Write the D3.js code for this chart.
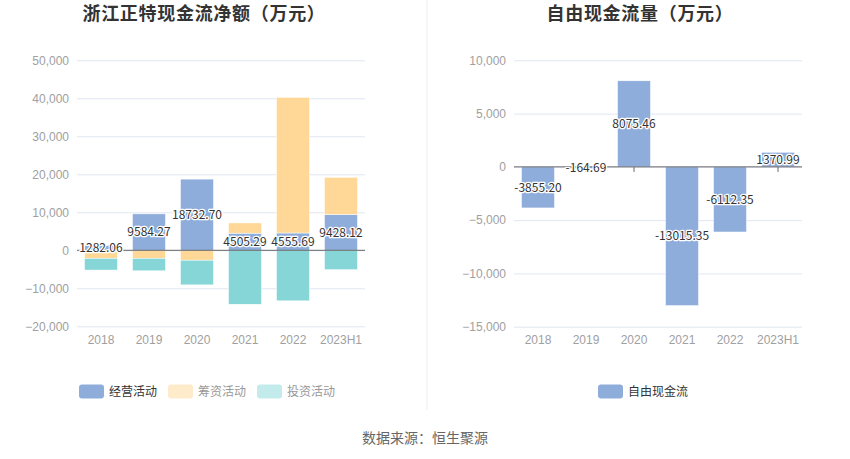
<!DOCTYPE html>
<html><head><meta charset="utf-8">
<script src="https://cdn.jsdelivr.net/npm/d3@7"></script>
<style>
html,body{margin:0;padding:0;background:#fff;}
svg{display:block;font-family:"Noto Sans CJK SC","Noto Sans",sans-serif;}
</style></head>
<body>
<svg id="c" width="850" height="459"></svg>
<script>
const categories = ["2018","2019","2020","2021","2022","2023H1"];
const operating = [1282.06, 9584.27, 18732.70, 4505.29, 4555.69, 9428.12];
const financing = [-2100, -2100, -2600, 2700, 35700, 9780];
const investing = [-3100, -3300, -6500, -14200, -13300, -5100];
const freeCash = [-3855.20, -164.69, 8075.46, -13015.35, -6112.35, 1370.99];
const leftTicks = [-20000,-10000,0,10000,20000,30000,40000,50000];
const rightTicks = [-15000,-10000,-5000,0,5000,10000];
const leftTitle = "浙江正特现金流净额（万元）";
const rightTitle = "自由现金流量（万元）";
const seriesNames = ["经营活动","筹资活动","投资活动"];
const freeName = "自由现金流";
const source = "数据来源：恒生聚源";

const colors = {op:"#8eaddb", fin:"#ffd898", inv:"#86d6d8"};
const svg = d3.select("#c");
const fmt = d3.format(",");

// divider
svg.append("line").attr("x1",427).attr("x2",427).attr("y1",0).attr("y2",410)
  .attr("stroke","#eeeeee").attr("stroke-width",1);

function drawPanel(opts){
  const g = svg.append("g");
  const x = d3.scaleBand().domain(categories).range(opts.xr).paddingInner(0.3125).paddingOuter(0.15625);
  const y = d3.scaleLinear().domain(opts.domain).range(opts.yr);
  const yAxis = d3.axisLeft(y).tickValues(opts.ticks).tickSize(-(opts.xr[1]-opts.xr[0])).tickFormat(fmt);
  const ga = g.append("g").attr("transform",`translate(${opts.xr[0]},0)`).call(yAxis);
  ga.select(".domain").remove();
  ga.selectAll(".tick line").attr("stroke","#e0e6f1");
  ga.selectAll(".tick text").attr("fill","#a0a0a0").attr("font-size",12).attr("x",-8);
  const xAxis = d3.axisBottom(x).tickSize(5).tickSizeOuter(0);
  const gx = g.append("g").attr("transform",`translate(0,${y(0)})`).call(xAxis);
  gx.select(".domain").remove();
  gx.selectAll(".tick line").attr("stroke","#666");
  gx.selectAll(".tick text").attr("fill","#a0a0a0").attr("font-size",12)
    .attr("y", opts.yr[0]-y(0)+9);
  return {g,x,y};
}

// LEFT
{
  const {g,x,y} = drawPanel({xr:[77,365], yr:[326.3,60.3], domain:[-20000,50000], ticks:leftTicks});
  const rows = categories.map((c,i)=>({cat:c, op:operating[i], fin:financing[i], inv:investing[i]}));
  const stack = d3.stack().keys(["op","fin","inv"]).offset(d3.stackOffsetDiverging);
  const layers = stack(rows);
  const bars = g.append("g");
  layers.forEach(layer=>{
    bars.selectAll(null).data(layer).enter().append("rect")
      .attr("x",d=>x(d.data.cat)).attr("width",x.bandwidth())
      .attr("y",d=>y(Math.max(d[0],d[1]))).attr("height",d=>Math.abs(y(d[0])-y(d[1])))
      .attr("fill",colors[layer.key]).attr("stroke","#fff").attr("stroke-width",0.5);
  });
  g.append("line").attr("x1",77).attr("x2",365).attr("y1",y(0)).attr("y2",y(0)).attr("stroke","#666");
  const opLayer = layers[0];
  g.selectAll(null).data(opLayer).enter().append("text")
    .attr("x",d=>x(d.data.cat)+x.bandwidth()/2)
    .attr("y",d=>(y(d[0])+y(d[1]))/2).attr("dy","0.35em")
    .attr("text-anchor","middle").attr("font-size",12).attr("fill","#333")
    .attr("stroke","#fff").attr("stroke-width",2.5).attr("paint-order","stroke").attr("stroke-linejoin","round")
    .text(d=>d.data.op.toFixed(2));
}

// RIGHT
{
  const {g,x,y} = drawPanel({xr:[514,802], yr:[326.7,60.3], domain:[-15000,10000], ticks:rightTicks});
  g.selectAll(null).data(freeCash).enter().append("rect")
    .attr("x",(d,i)=>x(categories[i])).attr("width",x.bandwidth())
    .attr("y",d=>y(Math.max(0,d))).attr("height",d=>Math.abs(y(d)-y(0)))
    .attr("fill",colors.op).attr("stroke","#fff").attr("stroke-width",0.5);
  g.append("line").attr("x1",514).attr("x2",802).attr("y1",y(0)).attr("y2",y(0)).attr("stroke","#666");
  g.selectAll(null).data(freeCash).enter().append("text")
    .attr("x",(d,i)=>x(categories[i])+x.bandwidth()/2)
    .attr("y",d=>(y(d)+y(0))/2).attr("dy","0.35em")
    .attr("text-anchor","middle").attr("font-size",12).attr("fill","#333")
    .attr("stroke","#fff").attr("stroke-width",2.5).attr("paint-order","stroke").attr("stroke-linejoin","round")
    .text(d=>d.toFixed(2));
}

// titles
svg.append("text").attr("x",204).attr("y",14).attr("dy","0.35em").attr("text-anchor","middle")
  .attr("font-size",18).attr("font-weight","bold").attr("fill","#333").attr("letter-spacing",0.7).text(leftTitle);
svg.append("text").attr("x",640).attr("y",14).attr("dy","0.35em").attr("text-anchor","middle")
  .attr("font-size",18).attr("font-weight","bold").attr("fill","#333").attr("letter-spacing",0.7).text(rightTitle);

// legends
function legendItem(xs, name, color, textColor){
  svg.append("rect").attr("x",xs).attr("y",384.5).attr("width",25).attr("height",14).attr("rx",3)
    .attr("fill",color);
  svg.append("text").attr("x",xs+30).attr("y",391.5).attr("dy","0.35em").attr("font-size",12)
    .attr("fill",textColor).text(name);
}
legendItem(79, seriesNames[0], colors.op, "#333");
legendItem(168, seriesNames[1], "#feebcc", "#999");
legendItem(257, seriesNames[2], "#c3ebeb", "#999");
legendItem(598, freeName, colors.op, "#333");

svg.append("text").attr("x",425).attr("y",438).attr("dy","0.35em").attr("text-anchor","middle")
  .attr("font-size",14).attr("fill","#666").text(source);
</script>
</body></html>
